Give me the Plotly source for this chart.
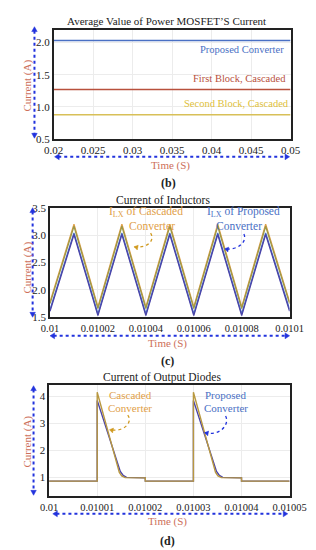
import plotly.graph_objects as go

W, H = 316, 550
FONT = "Liberation Serif, Times New Roman, DejaVu Serif, serif"

# ---------------- data ----------------
# (b) average value of power MOSFET current
t_avg = [0.02, 0.05]
avg_proposed = [2.03, 2.03]
avg_first_block = [1.27, 1.27]
avg_second_block = [0.88, 0.88]
avg_xticks = [0.02, 0.025, 0.03, 0.035, 0.04, 0.045, 0.05]
avg_xlabels = ["0.02", "0.025", "0.03", "0.035", "0.04", "0.045", "0.05"]
avg_yticks = [0.5, 1.0, 1.5, 2.0]
avg_ylabels = ["0.5", "1.0", "1.5", "2.0"]

# (c) current of inductors
t_ind = [0.01, 0.01001, 0.01002, 0.01003, 0.01004, 0.01005, 0.01006,
         0.01007, 0.01008, 0.01009, 0.0101]
il_cascaded_a = [1.78, 3.20, 1.69, 3.20, 1.69, 3.20, 1.69, 3.20, 1.69, 3.20, 1.78]
il_cascaded_b = [1.75, 3.16, 1.66, 3.16, 1.66, 3.16, 1.66, 3.16, 1.66, 3.16, 1.75]
il_proposed_a = [1.64, 3.04, 1.56, 3.04, 1.56, 3.04, 1.56, 3.04, 1.56, 3.04, 1.64]
il_proposed_b = [1.61, 3.01, 1.53, 3.01, 1.53, 3.01, 1.53, 3.01, 1.53, 3.01, 1.61]
ind_xticks = [0.01, 0.01002, 0.01004, 0.01006, 0.01008, 0.0101]
ind_xlabels = ["0.01", "0.01002", "0.01004", "0.01006", "0.01008", "0.0101"]
ind_yticks = [1.5, 2.0, 2.5, 3.0, 3.5]
ind_ylabels = ["1.5", "2.0", "2.5", "3.0", "3.5"]

# (d) current of output diodes
t_dio_c = [0.01, 0.01001, 0.01001, 0.0100146, 0.0100151, 0.0100158, 0.01002,
           0.01002, 0.01003, 0.01003, 0.0100346, 0.0100351, 0.0100358,
           0.01004, 0.01004, 0.01005]
id_cascaded = [0.86, 0.86, 4.15, 1.18, 1.05, 0.99, 0.98,
               0.86, 0.86, 4.15, 1.18, 1.05, 0.99, 0.98, 0.86, 0.86]
t_dio_p = [0.01, 0.01001, 0.01001, 0.0100148, 0.0100154, 0.0100161, 0.01002,
           0.01002, 0.01003, 0.01003, 0.0100348, 0.0100354, 0.0100361,
           0.01004, 0.01004, 0.01005]
id_proposed = [0.86, 0.86, 3.85, 1.22, 1.07, 1.00, 0.98,
               0.86, 0.86, 3.85, 1.22, 1.07, 1.00, 0.98, 0.86, 0.86]
dio_xticks = [0.01, 0.01001, 0.01002, 0.01003, 0.01004, 0.01005]
dio_xlabels = ["0.01", "0.01001", "0.01002", "0.01003", "0.01004", "0.01005"]
dio_yticks = [1, 2, 3, 4]
dio_ylabels = ["1", "2", "3", "4"]

# ---------------- styling ----------------
BLUE = "#4a70c4"
NAVY = "#4b44a8"
RED = "#b8503c"
GOLD = "#d8c058"
ORANGE = "#dfa048"
OLIVE = "#9c9848"
ARROW = "#2233dd"
LABEL = "#cd6f5a"


def px(x):
    return x / W


def py(y):
    return 1 - y / H


fig = go.Figure()

# panel (b)
fig.add_trace(go.Scatter(x=t_avg, y=avg_proposed, mode="lines",
                         line=dict(color=BLUE, width=1.5), xaxis="x", yaxis="y"))
fig.add_trace(go.Scatter(x=t_avg, y=avg_first_block, mode="lines",
                         line=dict(color=RED, width=1.5), xaxis="x", yaxis="y"))
fig.add_trace(go.Scatter(x=t_avg, y=avg_second_block, mode="lines",
                         line=dict(color=GOLD, width=1.5), xaxis="x", yaxis="y"))

# panel (c)
for vals, col in [(il_cascaded_a, ORANGE), (il_cascaded_b, OLIVE),
                  (il_proposed_a, BLUE), (il_proposed_b, NAVY)]:
    fig.add_trace(go.Scatter(x=t_ind, y=vals, mode="lines",
                             line=dict(color=col, width=1.3), xaxis="x2", yaxis="y2"))

# panel (d)
fig.add_trace(go.Scatter(x=t_dio_p, y=id_proposed, mode="lines",
                         line=dict(color=NAVY, width=1.4), xaxis="x3", yaxis="y3"))
fig.add_trace(go.Scatter(x=t_dio_c, y=id_cascaded, mode="lines",
                         line=dict(color="#b89840", width=1.4), xaxis="x3", yaxis="y3"))


def axis(domain, rng, tv, tt, anchor, size):
    return dict(domain=domain, range=rng, tickvals=tv, ticktext=tt, anchor=anchor,
                showline=True, mirror=True, linecolor="#222222", linewidth=1.5,
                showgrid=True, gridcolor="#ececec", zeroline=False, ticks="",
                tickfont=dict(family=FONT, size=size, color="#222222"))


fig.update_layout(
    width=W, height=H, margin=dict(l=0, r=0, t=0, b=0),
    paper_bgcolor="white", plot_bgcolor="white", showlegend=False,
    font=dict(family=FONT, size=11, color="#222222"),
    xaxis=axis([px(39), px(298)], [0.02, 0.05], avg_xticks, avg_xlabels, "y", 11),
    yaxis=axis([py(128), py(16)], [0.5, 2.2], avg_yticks, avg_ylabels, "x", 11),
    xaxis2=axis([px(35), px(297)], [0.01, 0.0101], ind_xticks, ind_xlabels, "y2", 10.5),
    yaxis2=axis([py(310), py(198)], [1.5, 3.5], ind_yticks, ind_ylabels, "x2", 11),
    xaxis3=axis([px(34), px(297)], [0.01, 0.01005], dio_xticks, dio_xlabels, "y3", 10.5),
    yaxis3=axis([py(493), py(379)], [0.3, 4.43], dio_yticks, dio_ylabels, "x3", 11),
)

ann = []


def text(x, y, s, color="#222222", size=11, angle=0, weight="normal"):
    ann.append(dict(x=px(x), y=py(y), xref="paper", yref="paper", text=s,
                    showarrow=False, textangle=angle, xanchor="center", yanchor="middle",
                    font=dict(family=FONT, size=size, color=color, weight=weight)))


# titles
text(162, 7, "Average Value of Power MOSFET’S Current", size=11)
text(158, 190, "Current of Inductors", size=11.5)
text(157, 372, "Current of Output Diodes", size=11.5)
# captions
text(165, 173, "(b)", size=12, weight="bold")
text(163, 355, "(c)", size=12, weight="bold")
text(163, 539, "(d)", size=12, weight="bold")
# axis titles
text(10, 73, "Current (A)", LABEL, 11, -90)
text(10, 259, "Current (A)", LABEL, 11, -90)
text(10, 437, "Current (A)", LABEL, 11, -90)
text(167, 155, "Time (S)", LABEL, 11)
text(163, 337, "Time (S)", LABEL, 11)
text(163, 519, "Time (S)", LABEL, 11)
# series labels (b)
text(245, 36, "Proposed Converter", BLUE, 10.5)
text(242, 66, "First Block, Cascaded", RED, 10.5)
text(239, 91, "Second Block, Cascaded", "#e0bf3a", 10.5)
# series labels (c)
text(140, 202, "I<sub>LX</sub> of Cascaded", ORANGE, 11.5)
text(147, 217, "Converter", ORANGE, 11.5)
text(247, 202, "I<sub>LX</sub> of Proposed", BLUE, 11.5)
text(242, 217, "Converter", BLUE, 11.5)
# series labels (d)
text(123, 389, "Cascaded", ORANGE, 11)
text(123, 403, "Converter", ORANGE, 11)
text(227, 389, "Proposed", BLUE, 11)
text(227, 403, "Converter", BLUE, 11)

fig.update_layout(annotations=ann)

shapes = []


def seg(x0, y0, x1, y1, color=ARROW, width=2, dash="dot"):
    shapes.append(dict(type="line", xref="paper", yref="paper",
                       x0=px(x0), y0=py(y0), x1=px(x1), y1=py(y1),
                       line=dict(color=color, width=width, dash=dash)))


def head(tx, ty, dx, dy, color=ARROW, L=5, Wd=3):
    n = (dx * dx + dy * dy) ** 0.5
    ux, uy = dx / n, dy / n
    bx, by = tx - ux * L, ty - uy * L
    pxn, pyn = -uy, ux
    p1 = (bx + pxn * Wd, by + pyn * Wd)
    p2 = (bx - pxn * Wd, by - pyn * Wd)
    path = "M {:.5f},{:.5f} L {:.5f},{:.5f} L {:.5f},{:.5f} Z".format(
        px(tx), py(ty), px(p1[0]), py(p1[1]), px(p2[0]), py(p2[1]))
    shapes.append(dict(type="path", xref="paper", yref="paper", path=path,
                       fillcolor=color, line=dict(color=color, width=0.5)))


def double_arrow(x0, y0, x1, y1):
    dx, dy = x1 - x0, y1 - y0
    n = (dx * dx + dy * dy) ** 0.5
    ux, uy = dx / n, dy / n
    seg(x0 + ux * 4, y0 + uy * 4, x1 - ux * 4, y1 - uy * 4)
    head(x0, y0, -dx, -dy)
    head(x1, y1, dx, dy)


def curve(pts, color, tipdir):
    (x0, y0), (c1x, c1y), (c2x, c2y), (x1, y1) = pts
    path = "M {:.5f},{:.5f} C {:.5f},{:.5f} {:.5f},{:.5f} {:.5f},{:.5f}".format(
        px(x0), py(y0), px(c1x), py(c1y), px(c2x), py(c2y), px(x1), py(y1))
    shapes.append(dict(type="path", xref="paper", yref="paper", path=path,
                       line=dict(color=color, width=1.3, dash="dot")))
    head(x1, y1, tipdir[0], tipdir[1], color=color, L=4, Wd=2.5)


# axis double arrows
double_arrow(18, 13, 18, 127)
double_arrow(40, 146, 297, 146)
double_arrow(16, 198, 16, 310)
double_arrow(35, 329, 297, 329)
double_arrow(17, 380, 17, 492)
double_arrow(38, 511, 295, 511)

# pointer arrows
curve([(145, 224), (150, 231), (142, 240), (127, 238)], "#d09a20", (-1, -0.2))
curve([(247, 225), (251, 233), (240, 242), (226, 240)], ARROW, (-1, -0.2))
curve([(120, 410), (126, 417), (116, 428), (100, 425)], "#d09a20", (-1, -0.2))
curve([(227, 411), (232, 420), (220, 432), (204, 428)], ARROW, (-1, -0.2))

fig.update_layout(shapes=shapes)

fig.write_html("out.html")
